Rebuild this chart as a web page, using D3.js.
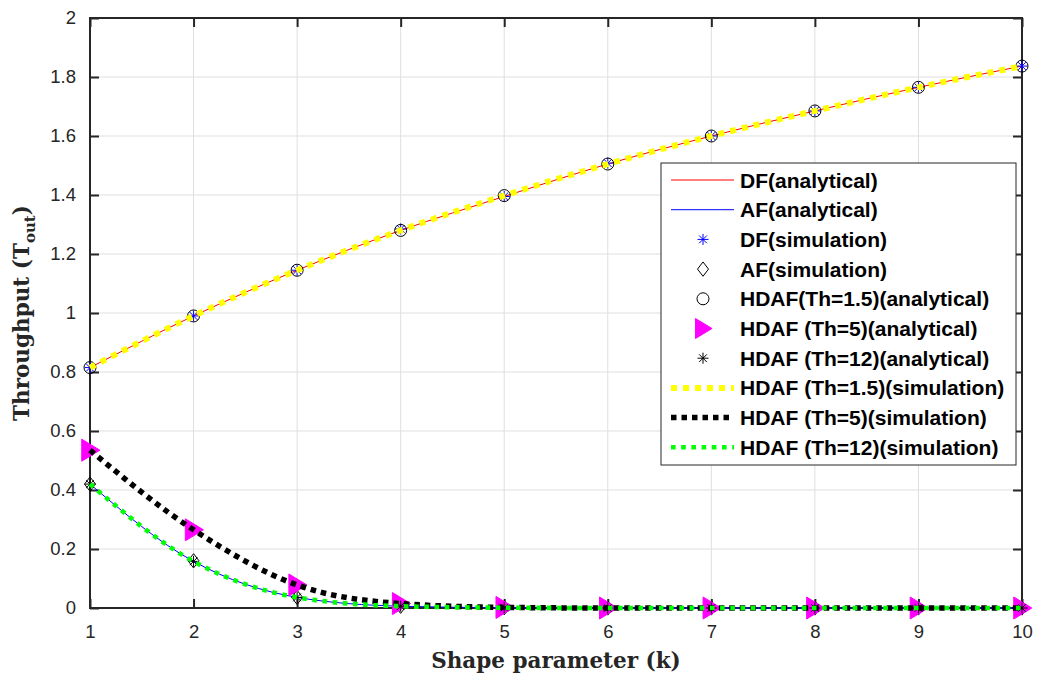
<!DOCTYPE html>
<html>
<head>
<meta charset="utf-8">
<script src="https://cdn.jsdelivr.net/npm/d3@7"></script>
<style>
  body { margin: 0; background: #fff; }
  svg { display: block; }
</style>
</head>
<body>
<svg id="chart"></svg>
<script>
// values
const kValues = [1, 2, 3, 4, 5, 6, 7, 8, 9, 10];
const dfAnalytical = [0.815, 0.99, 1.145, 1.28, 1.395, 1.505, 1.60, 1.685, 1.765, 1.837];
const dfSimulation = [0.815, 0.99, 1.145, 1.285, 1.395, 1.508, 1.60, 1.685, 1.765, 1.837];
const afAnalytical = [0.42, 0.158, 0.036, 0.006, 0.001, 0, 0, 0, 0, 0];
const afSimulation = [0.42, 0.16, 0.036, 0.006, 0.001, 0, 0, 0, 0, 0];
const hdaf15 = [0.815, 0.99, 1.145, 1.28, 1.398, 1.505, 1.60, 1.685, 1.765, 1.837];
const hdaf5 = [0.535, 0.265, 0.078, 0.015, 0.002, 0, 0, 0, 0, 0];
const hdaf12 = [0.42, 0.158, 0.036, 0.006, 0.001, 0, 0, 0, 0, 0];
const xTicks = [1, 2, 3, 4, 5, 6, 7, 8, 9, 10];
const yTicks = [0, 0.2, 0.4, 0.6, 0.8, 1, 1.2, 1.4, 1.6, 1.8, 2];
const legendLabels = ["DF(analytical)", "AF(analytical)", "DF(simulation)", "AF(simulation)",
  "HDAF(Th=1.5)(analytical)", "HDAF (Th=5)(analytical)", "HDAF (Th=12)(analytical)",
  "HDAF (Th=1.5)(simulation)", "HDAF (Th=5)(simulation)", "HDAF (Th=12)(simulation)"];

const width = 1038, height = 677;
const pLeft = 90, pRight = 1022, pTop = 18, pBottom = 608;
const svg = d3.select("#chart").attr("width", width).attr("height", height);

const x = d3.scaleLinear().domain([1, 10]).range([pLeft, pRight]);
const y = d3.scaleLinear().domain([0, 2]).range([pBottom, pTop]);

const axisColor = "#262626";

// grid
svg.append("g").selectAll("line").data(xTicks).enter().append("line")
  .attr("x1", d => x(d)).attr("x2", d => x(d)).attr("y1", pTop).attr("y2", pBottom)
  .attr("stroke", "#dfdfdf").attr("stroke-width", 1);
svg.append("g").selectAll("line").data(yTicks).enter().append("line")
  .attr("x1", pLeft).attr("x2", pRight).attr("y1", d => y(d)).attr("y2", d => y(d))
  .attr("stroke", "#dfdfdf").attr("stroke-width", 1);

// axes (MATLAB style, ticks inward on all sides)
const tickLen = 9;
const fmt = d => d3.format("~g")(d);
function styleAxis(g) {
  g.select(".domain").remove();
  g.selectAll(".tick line").attr("stroke", axisColor).attr("stroke-width", 2);
  g.selectAll(".tick text").attr("fill", axisColor)
    .style("font-family", "'Liberation Sans', Arial, sans-serif").style("font-size", "18.5px");
}
svg.append("g").attr("transform", `translate(0,${pBottom})`)
  .call(d3.axisBottom(x).tickValues(xTicks).tickFormat(fmt).tickSizeInner(-tickLen).tickSizeOuter(0).tickPadding(17))
  .call(styleAxis);
svg.append("g").attr("transform", `translate(0,${pTop})`)
  .call(d3.axisTop(x).tickValues(xTicks).tickFormat("").tickSizeInner(-tickLen).tickSizeOuter(0))
  .call(styleAxis);
svg.append("g").attr("transform", `translate(${pLeft},0)`)
  .call(d3.axisLeft(y).tickValues(yTicks).tickFormat(fmt).tickSizeInner(-tickLen).tickSizeOuter(0).tickPadding(14))
  .call(styleAxis);
svg.append("g").attr("transform", `translate(${pRight},0)`)
  .call(d3.axisRight(y).tickValues(yTicks).tickFormat("").tickSizeInner(-tickLen).tickSizeOuter(0))
  .call(styleAxis);

svg.append("rect").attr("x", pLeft).attr("y", pTop).attr("width", pRight - pLeft).attr("height", pBottom - pTop)
  .attr("fill", "none").attr("stroke", axisColor).attr("stroke-width", 2);

// marker shapes
const markerPath = {
  asterisk: s => `M${-s},0H${s}M0,${-s}V${s}M${-s * 0.7},${-s * 0.7}L${s * 0.7},${s * 0.7}M${-s * 0.7},${s * 0.7}L${s * 0.7},${-s * 0.7}`,
  diamond: s => `M0,${-s * 1.3}L${s},0L0,${s * 1.3}L${-s},0Z`,
  triangle: s => `M${-s * 0.75},${-s}L${s * 0.9},0L${-s * 0.75},${s}Z`
};

const series = [
  { type: "line", data: dfAnalytical, color: "#ff0000", width: 1 },
  { type: "line", data: afAnalytical, color: "#0000ff", width: 1 },
  { type: "mark", data: dfSimulation, shape: "asterisk", size: 5.5, color: "#0000ff" },
  { type: "mark", data: afSimulation, shape: "diamond", size: 5.5, color: "#000" },
  { type: "mark", data: hdaf15, shape: "circle", size: 6, color: "#000" },
  { type: "mark", data: hdaf5, shape: "triangle", size: 11, color: "#ff00ff", fill: true },
  { type: "mark", data: hdaf12, shape: "asterisk", size: 5.5, color: "#000" },
  { type: "dots", data: hdaf15, color: "#ffff00", width: 6, dash: "6,6" },
  { type: "dots", data: hdaf5, color: "#000000", width: 5.5, dash: "5.5,5" },
  { type: "dots", data: hdaf12, color: "#00ff00", width: 4.6, dash: "4.6,5.6" }
];

const line = d3.line().x((d, i) => x(kValues[i])).y(d => y(d)).curve(d3.curveMonotoneX);
const plot = svg.append("g");

function drawMarker(g, s, cx, cy, size) {
  if (s.shape === "circle") {
    g.append("circle").attr("cx", cx).attr("cy", cy).attr("r", size)
      .attr("fill", "none").attr("stroke", s.color).attr("stroke-width", 1);
  } else {
    g.append("path").attr("d", markerPath[s.shape](size))
      .attr("transform", `translate(${cx},${cy})`)
      .attr("fill", s.fill ? s.color : "none").attr("stroke", s.color).attr("stroke-width", 1);
  }
}

series.forEach(s => {
  if (s.type === "line" || s.type === "dots") {
    plot.append("path").datum(s.data).attr("d", line)
      .attr("fill", "none").attr("stroke", s.color).attr("stroke-width", s.width)
      .attr("stroke-dasharray", s.dash || null);
  } else {
    s.data.forEach((v, i) => drawMarker(plot, s, x(kValues[i]), y(v), s.size));
  }
});

// legend
const lgX = 661, lgY = 163, lgW = 355, lgH = 302, rowH = 29.7;
const legend = svg.append("g");
legend.append("rect").attr("x", lgX).attr("y", lgY).attr("width", lgW).attr("height", lgH)
  .attr("fill", "#fff").attr("stroke", axisColor).attr("stroke-width", 1);
series.forEach((s, i) => {
  const cy = lgY + 17 + i * rowH;
  if (s.type === "line" || s.type === "dots") {
    legend.append("line").attr("x1", 671).attr("x2", 734).attr("y1", cy).attr("y2", cy)
      .attr("stroke", s.color).attr("stroke-width", s.width).attr("stroke-dasharray", s.dash || null);
  } else {
    drawMarker(legend, s, 703, cy, s.shape === "triangle" ? 10 : s.size);
  }
  legend.append("text").attr("x", 740).attr("y", cy).attr("dy", "0.36em")
    .style("font-family", "'Liberation Sans', Arial, sans-serif").style("font-size", "21px")
    .style("font-weight", "bold").attr("fill", "#000").text(legendLabels[i]);
});

// axis titles
const titleFont = "'DejaVu Serif', serif";
svg.append("text").attr("x", (pLeft + pRight) / 2).attr("y", 668).attr("text-anchor", "middle")
  .style("font-family", titleFont).style("font-size", "21.5px").style("font-weight", "bold")
  .attr("fill", axisColor).text("Shape parameter (k)");

const yl = svg.append("text").attr("transform", `translate(29,${(pTop + pBottom) / 2}) rotate(-90)`)
  .attr("text-anchor", "middle")
  .style("font-family", titleFont).style("font-size", "21.5px").style("font-weight", "bold")
  .attr("fill", axisColor);
yl.append("tspan").text("Throughput (T");
yl.append("tspan").attr("dy", 6).style("font-size", "15px").text("out");
yl.append("tspan").attr("dy", -6).text(")");
</script>
</body>
</html>
